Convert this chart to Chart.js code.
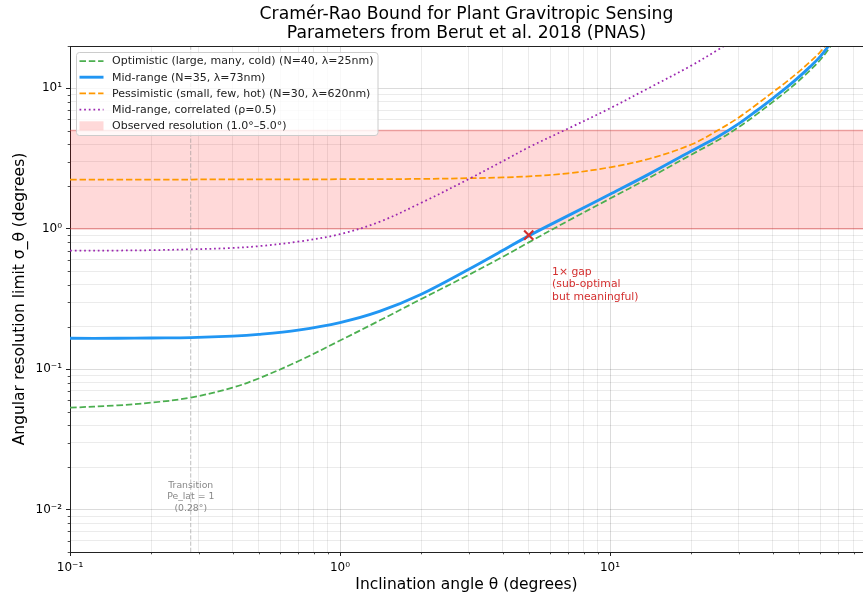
<!DOCTYPE html>
<html>
<head>
<meta charset="utf-8">
<script src="https://cdn.jsdelivr.net/npm/chart.js@4.4.0/dist/chart.umd.min.js"></script>
<style>
  html, body { margin: 0; padding: 0; background: #fff; }
  #wrap { width: 863px; height: 596px; }
</style>
</head>
<body>
<div id="wrap"><canvas id="chart" width="863" height="596"></canvas></div>
<script>
// values
const theta       = [0.1, 0.15, 0.2, 0.28, 0.4, 0.5, 0.7, 1, 1.4, 2, 3, 4, 5, 7, 10, 14, 20, 25, 30, 35, 40, 45, 50, 55, 60, 65, 70];
const optimistic  = [0.0532, 0.0553, 0.0578, 0.0628, 0.074, 0.086, 0.114, 0.16, 0.222, 0.316, 0.47, 0.63, 0.80, 1.14, 1.64, 2.31, 3.37, 4.25, 5.3, 6.55, 7.97, 9.5, 11.3, 13.4, 15.9, 19.4, 24.6];
const midRange    = [0.166, 0.166, 0.167, 0.168, 0.172, 0.177, 0.190, 0.215, 0.258, 0.342, 0.515, 0.70, 0.89, 1.24, 1.76, 2.46, 3.58, 4.5, 5.6, 6.95, 8.45, 10.1, 12.0, 14.2, 16.8, 20.5, 26];
const pessimistic = [2.24, 2.24, 2.24, 2.242, 2.245, 2.247, 2.25, 2.252, 2.256, 2.265, 2.29, 2.32, 2.36, 2.48, 2.74, 3.15, 3.98, 5.0, 6.2, 7.7, 9.35, 11.1, 13.1, 15.4, 18.1, 22, 28];
const correlated  = [0.70, 0.70, 0.704, 0.714, 0.73, 0.752, 0.81, 0.915, 1.12, 1.53, 2.26, 3.02, 3.8, 5.17, 7.2, 10.1, 14.5, 18.7, 23.2, null, null, null, null, null, null, null, null];

const seriesLabels = [
  'Optimistic (large, many, cold) (N=40, λ=25nm)',
  'Mid-range (N=35, λ=73nm)',
  'Pessimistic (small, few, hot) (N=30, λ=620nm)',
  'Mid-range, correlated (ρ=0.5)'
];
const bandLabel = 'Observed resolution (1.0°–5.0°)';
const bandLow = 1.0;
const bandHigh = 5.0;

const transitionTheta = 0.28;
const transitionText = ['Transition', 'Pe_lat = 1', '(0.28°)'];
const transitionTextY = 0.0123;

const gapTheta = 5;
const gapBound = 0.9;
const gapText = ['1× gap', '(sub-optimal', 'but meaningful)'];
const gapTextPos = [6.1, 0.4];

const xLimits = [0.1, 86.5];
const yLimits = [0.005, 20];

const titleLines = ['Cramér-Rao Bound for Plant Gravitropic Sensing', 'Parameters from Berut et al. 2018 (PNAS)'];

const FONT = "'DejaVu Sans', sans-serif";
const RED = '#d32f2f';

function toPoints(ys) {
  return theta.map((t, i) => ({ x: t, y: ys[i] }));
}

// log ticks: majors at powers of ten, minors at 2..9
function logTicks(lo, hi) {
  const out = [];
  for (let e = Math.floor(Math.log10(lo)); e <= Math.ceil(Math.log10(hi)); e++) {
    for (let k = 1; k <= 9; k++) {
      const v = k * Math.pow(10, e);
      if (v >= lo * 0.9999 && v <= hi * 1.0001) out.push({ value: v, major: k === 1 });
    }
  }
  return out;
}
const supers = { '-': '⁻', '0': '⁰', '1': '¹', '2': '²', '3': '³' };
function powLabel(v) {
  const e = Math.round(Math.log10(v));
  if (Math.abs(v - Math.pow(10, e)) > 1e-9 * v) return '';
  return '10' + String(e).split('').map(c => supers[c]).join('');
}

const styles = [
  { color: '#4CAF50', width: 1.75, dash: [6.5, 2.8] },
  { color: '#2196F3', width: 2.9, dash: [] },
  { color: '#FF9800', width: 1.75, dash: [6.5, 2.8] },
  { color: '#9C27B0', width: 1.75, dash: [1.75, 2.9] }
];
const seriesData = [optimistic, midRange, pessimistic, correlated];

const bandEdge = 'rgba(230,80,80,0.45)';
const bandFill = 'rgba(255,0,0,0.15)';

const datasets = [];
seriesData.forEach((ys, i) => {
  datasets.push({
    label: seriesLabels[i],
    data: toPoints(ys),
    borderColor: styles[i].color,
    borderWidth: styles[i].width,
    borderDash: styles[i].dash,
    pointRadius: 0,
    tension: 0.35,
    fill: false,
    clip: 0,
    order: 4 - i
  });
});
datasets.push({
  label: 'gap marker',
  data: [{ x: gapTheta, y: gapBound }],
  showLine: false,
  pointStyle: 'crossRot',
  pointRadius: 6.5,
  pointBorderWidth: 2.2,
  borderColor: RED,
  pointBorderColor: RED,
  clip: false,
  order: -1
});
datasets.push({
  label: bandLabel,
  data: [{ x: xLimits[0], y: bandHigh }, { x: xLimits[1], y: bandHigh }],
  borderColor: bandEdge, borderWidth: 1.5, pointRadius: 0,
  backgroundColor: bandFill, fill: '+1', clip: 0, order: 10
});
datasets.push({
  label: 'band low',
  data: [{ x: xLimits[0], y: bandLow }, { x: xLimits[1], y: bandLow }],
  borderColor: bandEdge, borderWidth: 1.5, pointRadius: 0, fill: false, clip: 0, order: 11
});
datasets.push({
  label: 'transition',
  data: [{ x: transitionTheta, y: yLimits[0] }, { x: transitionTheta, y: yLimits[1] }],
  borderColor: 'rgba(128,128,128,0.5)', borderWidth: 1, borderDash: [4.3, 1.9],
  pointRadius: 0, fill: false, clip: 0, order: 9
});

const decorPlugin = {
  id: 'decor',
  afterDatasetsDraw(chart) {
    const ctx = chart.ctx;
    const xs = chart.scales.x, ys = chart.scales.y;
    const area = chart.chartArea;
    ctx.save();
    // top spine
    ctx.strokeStyle = '#222';
    ctx.lineWidth = 1;
    ctx.beginPath();
    ctx.moveTo(area.left, area.top + 0.5);
    ctx.lineTo(area.right, area.top + 0.5);
    ctx.stroke();

    // minor tick marks
    ctx.lineWidth = 0.8;
    xs.ticks.forEach(t => {
      if (powLabel(t.value)) return;
      const px = Math.round(xs.getPixelForValue(t.value)) + 0.5;
      ctx.beginPath(); ctx.moveTo(px, area.bottom); ctx.lineTo(px, area.bottom + 2.3); ctx.stroke();
    });
    ys.ticks.forEach(t => {
      if (powLabel(t.value)) return;
      const py = Math.round(ys.getPixelForValue(t.value)) + 0.5;
      ctx.beginPath(); ctx.moveTo(area.left, py); ctx.lineTo(area.left - 2.3, py); ctx.stroke();
    });

    // annotations
    ctx.textBaseline = 'middle';
    ctx.fillStyle = '#888';
    ctx.font = '9.3px ' + FONT;
    ctx.textAlign = 'center';
    const tx = xs.getPixelForValue(transitionTheta);
    const ty = ys.getPixelForValue(transitionTextY);
    transitionText.forEach((s, i) => ctx.fillText(s, tx, ty + (i - 1) * 11.2));

    ctx.fillStyle = RED;
    ctx.font = '10.8px ' + FONT;
    ctx.textAlign = 'left';
    const ax = xs.getPixelForValue(gapTextPos[0]);
    const ay = ys.getPixelForValue(gapTextPos[1]);
    gapText.forEach((s, i) => ctx.fillText(s, ax, ay + (i - 1) * 12.6));
    ctx.restore();
  },
  afterDraw(chart) {
    const ctx = chart.ctx;
    const area = chart.chartArea;
    ctx.save();
    // title
    ctx.fillStyle = '#000';
    ctx.font = '17.2px ' + FONT;
    ctx.textAlign = 'center';
    ctx.textBaseline = 'middle';
    const cx = (area.left + area.right) / 2;
    ctx.fillText(titleLines[0], cx, 15);
    ctx.fillText(titleLines[1], cx, 34);

    // legend
    const lx = 76.5, ly = 52.5, lw = 301.5, lh = 83;
    ctx.fillStyle = 'rgba(255,255,255,0.8)';
    ctx.strokeStyle = '#cccccc';
    ctx.lineWidth = 1;
    ctx.beginPath();
    ctx.roundRect(lx, ly, lw, lh, 3);
    ctx.fill();
    ctx.stroke();
    ctx.font = '11px ' + FONT;
    ctx.textAlign = 'left';
    ctx.textBaseline = 'middle';
    const rowY = i => 61 + i * 16.2;
    styles.forEach((s, i) => {
      ctx.strokeStyle = s.color;
      ctx.lineWidth = s.width;
      ctx.setLineDash(s.dash);
      ctx.beginPath();
      ctx.moveTo(79.5, rowY(i));
      ctx.lineTo(103.5, rowY(i));
      ctx.stroke();
      ctx.setLineDash([]);
      ctx.fillStyle = '#222';
      ctx.fillText(seriesLabels[i], 112, rowY(i) + 0.5);
    });
    ctx.fillStyle = bandFill;
    ctx.fillRect(79.5, rowY(4) - 4.5, 24, 9);
    ctx.fillStyle = '#222';
    ctx.fillText(bandLabel, 112, rowY(4) + 0.5);
    ctx.restore();
  }
};

const gridColor = c => (c.tick && powLabel(c.tick.value)) ? 'rgba(0,0,0,0.14)' : 'rgba(0,0,0,0.08)';
const tickColor = c => (c.tick && powLabel(c.tick.value)) ? '#222' : 'rgba(0,0,0,0)';

new Chart(document.getElementById('chart'), {
  type: 'line',
  data: { datasets },
  options: {
    responsive: false,
    animation: false,
    devicePixelRatio: 1,
    layout: { autoPadding: false, padding: { top: 46, right: 0, left: 0, bottom: 0 } },
    plugins: {
      legend: { display: false },
      title: { display: false },
      tooltip: { enabled: false }
    },
    scales: {
      x: {
        type: 'logarithmic',
        min: xLimits[0], max: xLimits[1],
        afterBuildTicks: s => { s.ticks = logTicks(xLimits[0], xLimits[1]); },
        afterFit: s => { s.height = 44; },
        border: { color: '#222', width: 1 },
        grid: { color: gridColor, tickColor: tickColor, tickLength: 4, lineWidth: 1 },
        ticks: {
          autoSkip: false, maxRotation: 0, padding: 5,
          color: '#000', font: { family: FONT, size: 12 },
          callback: v => powLabel(v)
        },
        title: {
          display: true, text: 'Inclination angle θ (degrees)',
          color: '#000', font: { family: FONT, size: 15.5 }, padding: { top: 0, bottom: 2 }
        }
      },
      y: {
        type: 'logarithmic',
        min: yLimits[0], max: yLimits[1],
        afterBuildTicks: s => { s.ticks = logTicks(yLimits[0], yLimits[1]); },
        afterFit: s => { s.width = 70; },
        border: { color: '#222', width: 1 },
        grid: { color: gridColor, tickColor: tickColor, tickLength: 4, lineWidth: 1 },
        ticks: {
          autoSkip: false, padding: 4,
          color: '#000', font: { family: FONT, size: 12 },
          callback: v => powLabel(v)
        },
        title: {
          display: true, text: 'Angular resolution limit σ_θ (degrees)',
          color: '#000', font: { family: FONT, size: 15.5 }, padding: { top: 10.5, bottom: 0 }
        }
      }
    }
  },
  plugins: [decorPlugin]
});
</script>
</body>
</html>
